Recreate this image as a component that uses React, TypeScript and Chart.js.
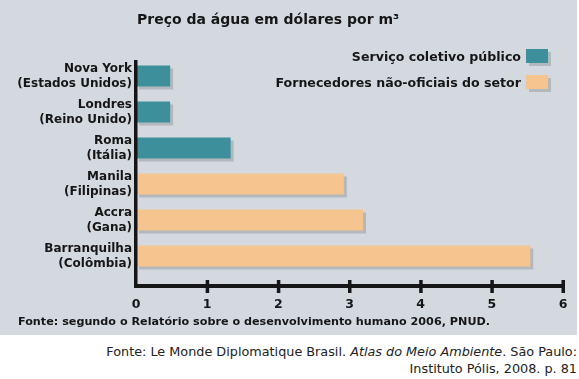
import React, { useEffect, useRef } from "react";
import { Chart, registerables } from "chart.js";

Chart.register(...registerables);

const chartTitle = "Preço da água em dólares por m³";
const categories: string[][] = [
  ["Nova York", "(Estados Unidos)"],
  ["Londres", "(Reino Unido)"],
  ["Roma", "(Itália)"],
  ["Manila", "(Filipinas)"],
  ["Accra", "(Gana)"],
  ["Barranquilha", "(Colômbia)"],
];
const seriesNames = ["Serviço coletivo público", "Fornecedores não-oficiais do setor"];
const publicService = [0.48, 0.48, 1.33, null, null, null];
const informalVendors = [null, null, null, 2.92, 3.19, 5.54];
const xTicks = [0, 1, 2, 3, 4, 5, 6];
const footnote = "Fonte: segundo o Relatório sobre o desenvolvimento humano 2006, PNUD.";

const TEAL = "#3e8f9c";
const PEACH = "#f6c58f";
const SHADOW = "#b3b8bd";
const PANEL = "#d3d9df";
const INK = "#161616";
const FONT = "'DejaVu Sans', Verdana, sans-serif";

const axesPlugin = {
  id: "customAxes",
  beforeDatasetsDraw(chart: any) {
    const ctx = chart.ctx;
    ctx.save();
    ctx.shadowColor = SHADOW;
    ctx.shadowOffsetX = 3;
    ctx.shadowOffsetY = 3;
    ctx.shadowBlur = 0;
  },
  afterDatasetsDraw(chart: any) {
    const ctx = chart.ctx;
    ctx.restore();
    const xs = chart.scales.x;
    const area = chart.chartArea;
    const x0 = xs.getPixelForValue(xTicks[0]);
    const xEnd = xs.getPixelForValue(xTicks[xTicks.length - 1]);
    const axisY = area.bottom + 12;
    ctx.save();
    ctx.fillStyle = INK;
    ctx.fillRect(x0 - 2, area.top + 2, 3.5, axisY - area.top);
    ctx.fillRect(x0 - 2, axisY - 2, xEnd - x0 + 3.5, 4);
    xTicks.slice(1).forEach((v) => {
      const px = xs.getPixelForValue(v);
      ctx.fillRect(px - 1.5, axisY - 6, 3.5, 13);
    });
    ctx.restore();
  },
};

export default function App() {
  const ref = useRef<HTMLCanvasElement | null>(null);

  useEffect(() => {
    if (!ref.current) return;
    const chart = new Chart(ref.current, {
      type: "bar",
      data: {
        labels: categories,
        datasets: [
          {
            label: seriesNames[0],
            data: publicService,
            backgroundColor: TEAL,
            borderWidth: 0,
          },
          {
            label: seriesNames[1],
            data: informalVendors,
            backgroundColor: PEACH,
            borderWidth: 0,
          },
        ],
      },
      options: {
        indexAxis: "y",
        responsive: false,
        animation: false,
        events: [],
        layout: { padding: { top: 58, right: 14, bottom: 21, left: 0 } },
        datasets: {
          bar: { grouped: false, barPercentage: 0.58, categoryPercentage: 1 },
        },
        plugins: {
          legend: { display: false },
          title: { display: false },
          tooltip: { enabled: false },
        },
        scales: {
          x: {
            type: "linear",
            min: 0,
            max: 6,
            afterBuildTicks: (s: any) => {
              s.ticks = xTicks.map((v) => ({ value: v }));
            },
            afterFit: (s: any) => {
              s.height = 40;
              s.paddingLeft = 0;
              s.paddingRight = 0;
            },
            grid: { display: false, drawTicks: false },
            border: { display: false },
            ticks: {
              padding: 23,
              color: INK,
              font: { family: FONT, size: 12.5, weight: "bold" },
            },
          },
          y: {
            type: "category",
            afterFit: (s: any) => {
              s.width = 136;
            },
            grid: { display: false, drawTicks: false },
            border: { display: false },
            ticks: {
              padding: 4,
              color: INK,
              font: { family: FONT, size: 12, weight: "bold", lineHeight: 1.25 },
            },
          },
        },
      },
      plugins: [axesPlugin],
    } as any);
    return () => chart.destroy();
  }, []);

  const swatch = (color: string) => ({
    width: 22,
    height: 14,
    background: color,
    boxShadow: `3px 3px 0 ${SHADOW}`,
    marginLeft: 5,
    flex: "0 0 auto",
  });

  return (
    <div
      style={{
        position: "fixed",
        left: 0,
        top: 0,
        width: 579,
        height: 379,
        background: "#ffffff",
        fontFamily: FONT,
        color: INK,
        overflow: "hidden",
      }}
    >
      <div style={{ position: "absolute", left: 0, top: 0, width: 577, height: 335, background: PANEL }}>
        <canvas ref={ref} width={577} height={335} style={{ display: "block" }} />
        <div
          style={{
            position: "absolute",
            left: 137,
            top: 9,
            fontSize: 14,
            fontWeight: 700,
            lineHeight: "20px",
            whiteSpace: "nowrap",
          }}
        >
          {chartTitle}
        </div>
        <div style={{ position: "absolute", right: 29, top: 43, textAlign: "right" }}>
          {[TEAL, PEACH].map((c, i) => (
            <div
              key={i}
              style={{
                display: "flex",
                alignItems: "center",
                justifyContent: "flex-end",
                height: 26,
                fontSize: 12.6,
                fontWeight: 700,
                whiteSpace: "nowrap",
              }}
            >
              <span>{seriesNames[i]}</span>
              <span style={swatch(c)} />
            </div>
          ))}
        </div>
        <div
          style={{
            position: "absolute",
            left: 18,
            top: 313,
            fontSize: 11.2,
            fontWeight: 700,
            lineHeight: "18px",
            whiteSpace: "nowrap",
          }}
        >
          {footnote}
        </div>
      </div>
      <div
        style={{
          position: "absolute",
          right: 2,
          top: 343,
          textAlign: "right",
          fontSize: 12.8,
          lineHeight: "17px",
          color: "#222",
          whiteSpace: "nowrap",
        }}
      >
        <div>
          Fonte: Le Monde Diplomatique Brasil. <i>Atlas do Meio Ambiente</i>. São Paulo:
        </div>
        <div>Instituto Pólis, 2008. p. 81</div>
      </div>
    </div>
  );
}
